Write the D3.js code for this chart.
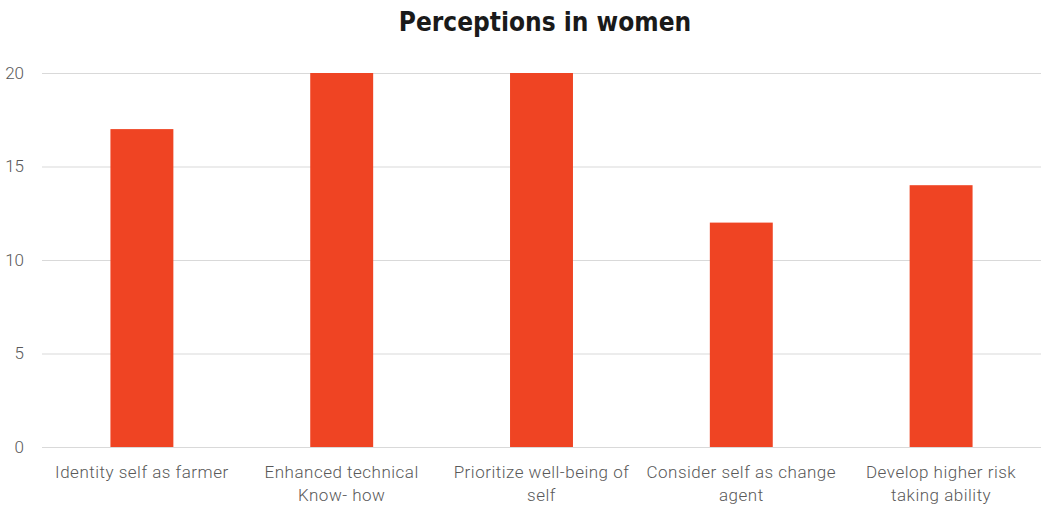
<!DOCTYPE html>
<html><head><meta charset="utf-8">
<script src="https://cdn.jsdelivr.net/npm/d3@7"></script>
<style>body{margin:0;background:#fff}</style>
</head><body>
<svg id="c" width="1041" height="506"></svg>
<script>
const categories = [["Identity self as farmer"],["Enhanced technical","Know- how"],["Prioritize well-being of","self"],["Consider self as change","agent"],["Develop higher risk","taking ability"]];
const values = [17, 20, 20, 12, 14];
const yTicks = [0, 5, 10, 15, 20];
const title = "Perceptions in women";

const svg = d3.select("#c");
const m = {l: 42, r: 0, t: 73, b: 59};
const W = 1041, H = 506;
const x = d3.scaleBand().domain(d3.range(categories.length)).range([m.l, W - m.r]).paddingInner(0.685).paddingOuter(0.3425);
const y = d3.scaleLinear().domain([0, 20]).range([H - m.b, m.t]);

svg.append("text").attr("x", 545).attr("y", 31).attr("text-anchor", "middle")
  .attr("font-family", "'DejaVu Sans Condensed', 'DejaVu Sans'").attr("font-weight", "bold").attr("font-stretch","condensed")
  .attr("font-size", 26).attr("fill", "#1a1a1a").text(title);

const yAxis = d3.axisLeft(y).tickValues(yTicks).tickSize(-(W - m.l - m.r)).tickPadding(18);
const gy = svg.append("g").attr("transform", `translate(${m.l},0)`).call(yAxis);
gy.select(".domain").remove();
gy.selectAll(".tick line").attr("stroke", "#d9d9d9").attr("stroke-width", 1);
gy.selectAll(".tick text").attr("font-family", "Roboto").attr("font-weight", 300).attr("font-size", 17).attr("fill", "#595959");

svg.append("g").selectAll("rect").data(values).join("rect")
  .attr("x", (d, i) => x(i)).attr("width", x.bandwidth())
  .attr("y", d => y(d)).attr("height", d => y(0) - y(d)).attr("fill", "#EF4423");

const gx = svg.append("g");
categories.forEach((lines, i) => {
  const t = gx.append("text").attr("text-anchor", "middle").attr("font-family", "Roboto").attr("font-weight", 300)
    .attr("font-size", 17).attr("letter-spacing", 0.5).attr("fill", "#595959");
  lines.forEach((s, j) => t.append("tspan").attr("x", x(i) + x.bandwidth() / 2).attr("y", 478 + j * 23).text(s));
});
</script>
</body></html>
